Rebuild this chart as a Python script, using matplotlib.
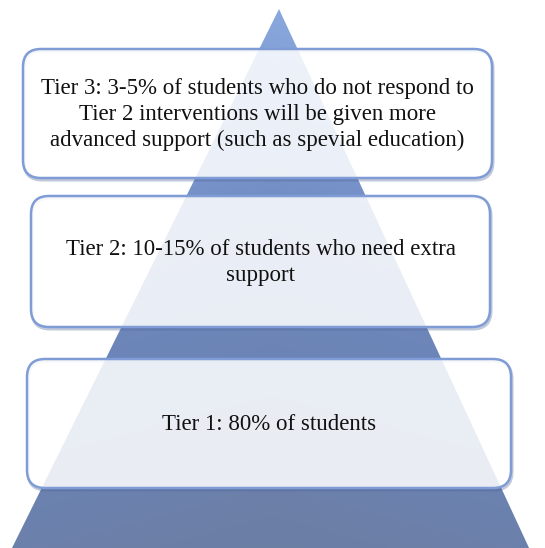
import numpy as np
import matplotlib.pyplot as plt
from matplotlib.patches import FancyBboxPatch, Polygon
from matplotlib.colors import LinearSegmentedColormap

# tiers, top to bottom
tiers = ["Tier 3", "Tier 2", "Tier 1"]
tier_texts = [
    "Tier 3: 3-5% of students who do not respond to\n"
    "Tier 2 interventions will be given more\n"
    "advanced support (such as spevial education)",
    "Tier 2: 10-15% of students who need extra\nsupport",
    "Tier 1: 80% of students",
]

W, H = 545, 548
fig = plt.figure(figsize=(W / 100, H / 100), dpi=100)
ax = fig.add_axes([0, 0, 1, 1])
ax.set_xlim(0, W)
ax.set_ylim(H, 0)
ax.axis('off')

# pyramid with a blue gradient
apex = (279, 9)
tri = Polygon([apex, (11, H + 2), (530, H + 2)], closed=True,
              facecolor='none', edgecolor='none')
ax.add_patch(tri)

cmap = LinearSegmentedColormap.from_list(
    'pyr', ['#93b3e8', '#7e9bd2', '#6e88bd', '#6b83b3', '#6c7ea4'])
yy, xx = np.mgrid[0:1:300j, 0:1:300j]
# a bit lighter near the slanted edges
edge = np.abs(xx - 0.5) * 2
grad = yy * 0.9 - edge * 0.12 + 0.1
im = ax.imshow(grad, cmap=cmap, extent=(0, W, H, 0), aspect='auto',
               vmin=0, vmax=1, zorder=1)
im.set_clip_path(tri)

# rounded boxes (x0, y0, x1, y1) in pixels
boxes = [(23, 49, 492, 178), (31, 196, 490, 327), (27, 359, 511, 488)]

for (x0, y0, x1, y1), txt in zip(boxes, tier_texts):
    # soft shadow
    sh = FancyBboxPatch((x0 + 1, y0 + 2), x1 - x0, y1 - y0,
                        boxstyle="round,pad=0,rounding_size=18",
                        facecolor='none', edgecolor='#4e6597', lw=2.2,
                        alpha=0.35, zorder=2)
    ax.add_patch(sh)
    box = FancyBboxPatch((x0, y0), x1 - x0, y1 - y0,
                         boxstyle="round,pad=0,rounding_size=18",
                         facecolor=(1, 1, 1, 0.86), edgecolor='#7f9cd6',
                         lw=1.8, zorder=3)
    ax.add_patch(box)
    ax.text((x0 + x1) / 2, (y0 + y1) / 2 + 1, txt, ha='center', va='center',
            fontsize=16.5, family='Liberation Serif', color='#111111',
            linespacing=1.33, zorder=4)

fig.savefig('out.png', dpi=100)
plt.close(fig)
